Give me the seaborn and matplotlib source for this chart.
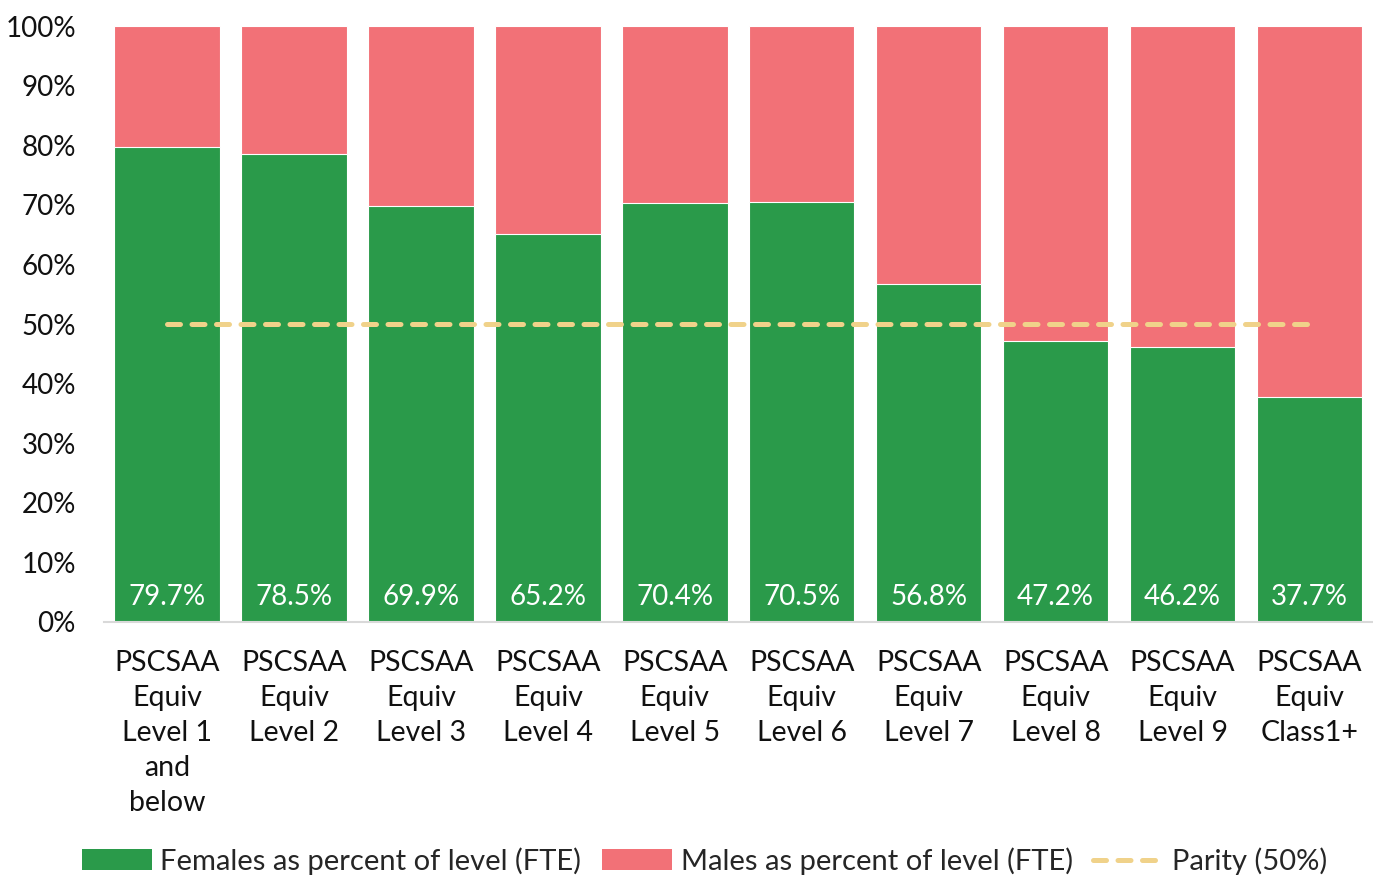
import numpy as np
import pandas as pd
import matplotlib
matplotlib.use("Agg")
import matplotlib.pyplot as plt
import seaborn as sns
from matplotlib.patches import Patch
from matplotlib.lines import Line2D

levels = [
    "PSCSAA\nEquiv\nLevel 1\nand\nbelow",
    "PSCSAA\nEquiv\nLevel 2",
    "PSCSAA\nEquiv\nLevel 3",
    "PSCSAA\nEquiv\nLevel 4",
    "PSCSAA\nEquiv\nLevel 5",
    "PSCSAA\nEquiv\nLevel 6",
    "PSCSAA\nEquiv\nLevel 7",
    "PSCSAA\nEquiv\nLevel 8",
    "PSCSAA\nEquiv\nLevel 9",
    "PSCSAA\nEquiv\nClass1+",
]
females_pct = [79.7, 78.5, 69.9, 65.2, 70.4, 70.5, 56.8, 47.2, 46.2, 37.7]
males_pct = [round(100 - f, 1) for f in females_pct]
parity_pct = [50] * len(levels)
y_ticks = [0, 10, 20, 30, 40, 50, 60, 70, 80, 90, 100]

GREEN = "#2a9a4a"
RED = "#f27177"
GOLD = "#f0d28a"

sns.set_theme(style="white")
plt.rcParams["font.family"] = ["Lato", "DejaVu Sans"]

df = pd.DataFrame({
    "level": levels,
    "female": females_pct,
    "male": males_pct,
})
df["total"] = df["female"] + df["male"]

fig = plt.figure(figsize=(13.73, 8.76), dpi=100)
ax = fig.add_axes([0.0755, 0.29, 0.9245, 0.680])

# stacked bars: full height in red, female share in green on top
sns.barplot(data=df, x="level", y="total", color=RED, width=0.83,
            saturation=1, edgecolor="white", linewidth=0.8, ax=ax)
sns.barplot(data=df, x="level", y="female", color=GREEN, width=0.83,
            saturation=1, edgecolor="white", linewidth=0.8, ax=ax)

# parity reference line across bar centres
xpos = np.arange(len(levels))
ax.plot(xpos, parity_pct, color=GOLD, linewidth=3.6,
        linestyle=(0, (2.6, 2.3)), dash_capstyle="round", zorder=5)

# value labels near the bar bases
for i, f in enumerate(females_pct):
    ax.text(i, 4.2, f"{f:.1f}%", ha="center", va="center",
            color="white", fontsize=20)

ax.set_xlim(-0.5, len(levels) - 0.5)
ax.set_ylim(0, 100)
ax.set_yticks(y_ticks)
ax.set_yticklabels([f"{t}%" for t in y_ticks], fontsize=20, color="#111111")
ax.tick_params(axis="x", labelsize=20.5, labelcolor="#111111", length=0, pad=20.5)
ax.tick_params(axis="y", length=0, pad=20)
for lbl in ax.get_xticklabels():
    lbl.set_linespacing(1.42)
ax.set_xlabel("")
ax.set_ylabel("")

for side in ["top", "right", "left"]:
    ax.spines[side].set_visible(False)
ax.spines["bottom"].set_color("#d9d9d9")
ax.spines["bottom"].set_linewidth(1.5)

handles = [
    Patch(facecolor=GREEN, edgecolor="none", label="Females as percent of level (FTE)"),
    Patch(facecolor=RED, edgecolor="none", label="Males as percent of level (FTE)"),
    Line2D([0], [0], color=GOLD, linewidth=3.6, linestyle=(0, (2.6, 2.3)),
           dash_capstyle="round", label="Parity (50%)"),
]
fig.legend(handles=handles, loc="center", bbox_to_anchor=(0.513, 0.017),
           ncol=3, frameon=False, fontsize=21, handlelength=2.4,
           handleheight=0.7, handletextpad=0.3, columnspacing=0.7)

fig.savefig("out.png", dpi=100)
